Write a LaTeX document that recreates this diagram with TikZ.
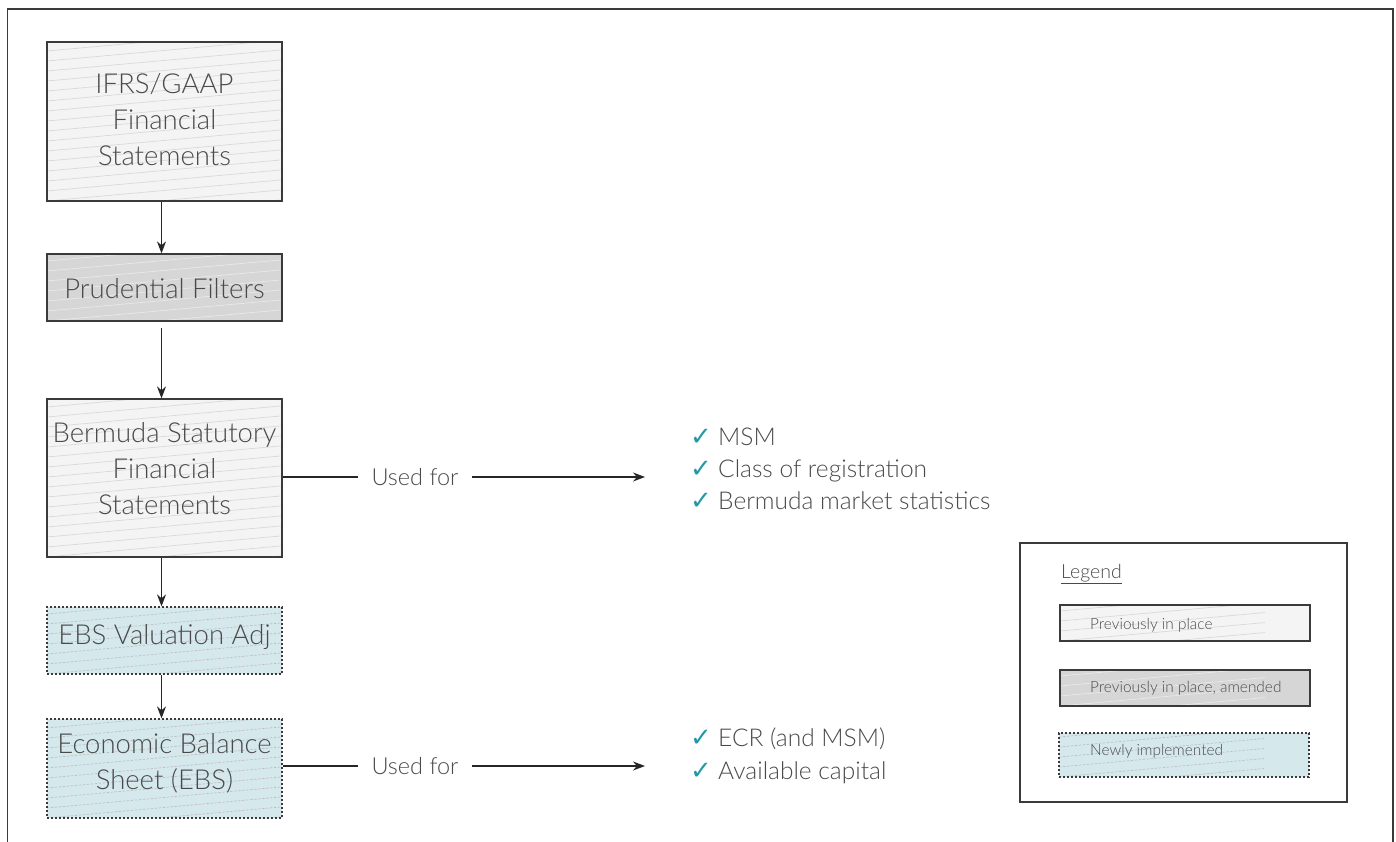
\documentclass[tikz,border=0pt]{standalone}
\usepackage{fontspec}
\setmainfont{Lato}[UprightFont={* Light}]
\newfontfamily\symfont{DejaVu Sans}
\usetikzlibrary{arrows.meta,calc}

\definecolor{inktext}{HTML}{4A4A4A}
\definecolor{frameline}{HTML}{3A3A3A}
\definecolor{fillold}{HTML}{F4F4F4}
\definecolor{fillamend}{HTML}{D6D6D6}
\definecolor{fillnew}{HTML}{D5E9ED}
\definecolor{hatchold}{HTML}{D9D9D9}
\definecolor{hatchamend}{HTML}{E9E9E9}
\definecolor{hatchnew}{HTML}{BDBEC2}
\definecolor{tick}{HTML}{1F9AA5}

\tikzset{
  hatchcol/.store in=\hatchcolor, hatchcol=hatchold,
  hatchreach/.store in=\hatchreach, hatchreach=300pt,
  hatched/.style={path picture={
    \coordinate (hsw) at (path picture bounding box.south west);
    \foreach \k in {-4,...,18}
      \draw[draw=\hatchcolor, line width=0.7pt]
        ($(hsw)+(0pt,\k*10pt-30pt)$) -- ++(\hatchreach,0.09*\hatchreach);
  }},
  flowbox/.style={draw=frameline, line width=1.2pt, minimum width=235pt,
    inner sep=0pt},
  flowtext/.style={align=center, text=inktext, inner sep=0pt,
    font=\fontsize{27.5}{36}\selectfont},
  oldbox/.style={fill=fillold, hatchcol=hatchold, hatched},
  amendbox/.style={fill=fillamend, hatchcol=hatchamend, hatched},
  newbox/.style={fill=fillnew, hatchcol=hatchnew, hatched,
    dash pattern=on 2.4pt off 1.6pt},
  flow/.style={draw=black!85, line width=1.1pt,
    -{Stealth[length=12pt,width=9pt]}},
  plain/.style={draw=black!85, line width=1.1pt},
  usedfor/.style={text=inktext, font=\fontsize{23.5}{26}\selectfont,
    inner xsep=13pt, inner ysep=0pt},
  item/.style={anchor=base west, text=inktext, inner sep=0pt,
    font=\fontsize{24.5}{28}\selectfont},
  legitem/.style={draw=frameline, line width=1.1pt, minimum width=250pt,
    inner sep=0pt, hatchreach=205pt},
  legtext/.style={anchor=west, text=inktext, inner sep=0pt,
    font=\fontsize{15.4}{18}\selectfont},
}
\newcommand{\tk}{\makebox[28pt][l]{\color{tick}\symfont\fontsize{26}{26}\selectfont ✓}}

\begin{document}
\begin{tikzpicture}[x=1pt,y=-1pt]
  \useasboundingbox (0,0) rectangle (1396,842);
  % page frame, open at the bottom
  \draw[draw=frameline, line width=1.6pt] (7.5,842) -- (7.5,9) -- (1393,9) -- (1393,842);

  % main chain of statements
  \node[flowbox, oldbox, minimum height=159pt] (ifrs) at (164.5,121.5) {};
  \node[flowtext] (ifrs-t) at (164.5,120) {IFRS/GAAP\\Financial\\Statements};
  \node[flowbox, amendbox, minimum height=67pt] (prud) at (164.5,287.5) {};
  \node[flowtext] (prud-t) at (164.5,289) {Prudential Filters};
  \node[flowbox, oldbox, minimum height=158pt] (bsfs) at (164.5,478) {};
  \node[flowtext] (bsfs-t) at (164.5,469) {Bermuda Statutory\\Financial\\Statements};
  \node[flowbox, newbox, minimum height=67pt] (ebsva) at (164.5,640.5) {};
  \node[flowtext] (ebsva-t) at (164.5,637) {EBS Valuation Adj};
  \node[flowbox, newbox, minimum height=99pt] (ebs) at (164.5,768.5) {};
  \node[flowtext] (ebs-t) at (164.5,763) {Economic Balance\\Sheet (EBS)};

  \coordinate (prudout) at ($(prud.south)+(-3pt,-6pt)$);
  \draw[flow] ($(ifrs.south)+(-3pt,0pt)$) -- ($(prud.north)+(-3pt,0pt)$);
  \draw[flow] (prudout) -- ($(bsfs.north)+(-3pt,0pt)$);
  \draw[flow] ($(bsfs.south)+(-3pt,0pt)$) -- ($(ebsva.north)+(-3pt,0pt)$);
  \draw[flow] ($(ebsva.south)+(-3pt,0pt)$) -- ($(ebs.north)+(-3pt,0pt)$);

  % uses of the statutory statements
  \node[usedfor] (uf1) at (415,477) {Used for};
  \coordinate (use1) at (645,477);
  \draw[plain] (bsfs.east |- uf1) -- (uf1.west);
  \draw[flow] (uf1.east) -- (use1);
  \node[item] (msm) at (690,445) {\tk MSM};
  \node[item] (cls) at (690,477) {\tk Class of registration};
  \node[item] (bms) at (690,509) {\tk Bermuda market statistics};

  % uses of the economic balance sheet
  \node[usedfor] (uf2) at (415,766) {Used for};
  \coordinate (use2) at (645,766);
  \draw[plain] (ebs.east |- uf2) -- (uf2.west);
  \draw[flow] (uf2.east) -- (use2);
  \node[item] (ecr) at (690,746) {\tk ECR (and MSM)};
  \node[item] (avc) at (690,779) {\tk Available capital};

  % legend
  \node[draw=frameline, line width=1.2pt, minimum width=327pt,
    minimum height=259pt, inner sep=0pt] (legend) at (1183.5,672.5) {};
  \node[anchor=base west, text=inktext, inner sep=0pt,
    font=\fontsize{19.5}{22}\selectfont] (legtitle) at (1061,578)
    {\underline{Legend}};
  \node[legitem, oldbox, minimum height=36pt] (lg1) at (1185,623) {};
  \node[legitem, amendbox, minimum height=36pt] (lg2) at (1185,688) {};
  \node[legitem, newbox, minimum height=44pt] (lg3) at (1184,755) {};
  \node[legtext] (lt1) at (1090,625) {Previously in place};
  \node[legtext] (lt2) at (1090,688) {Previously in place, amended};
  \node[legtext] (lt3) at (1090,751) {Newly implemented};
\end{tikzpicture}
\end{document}
